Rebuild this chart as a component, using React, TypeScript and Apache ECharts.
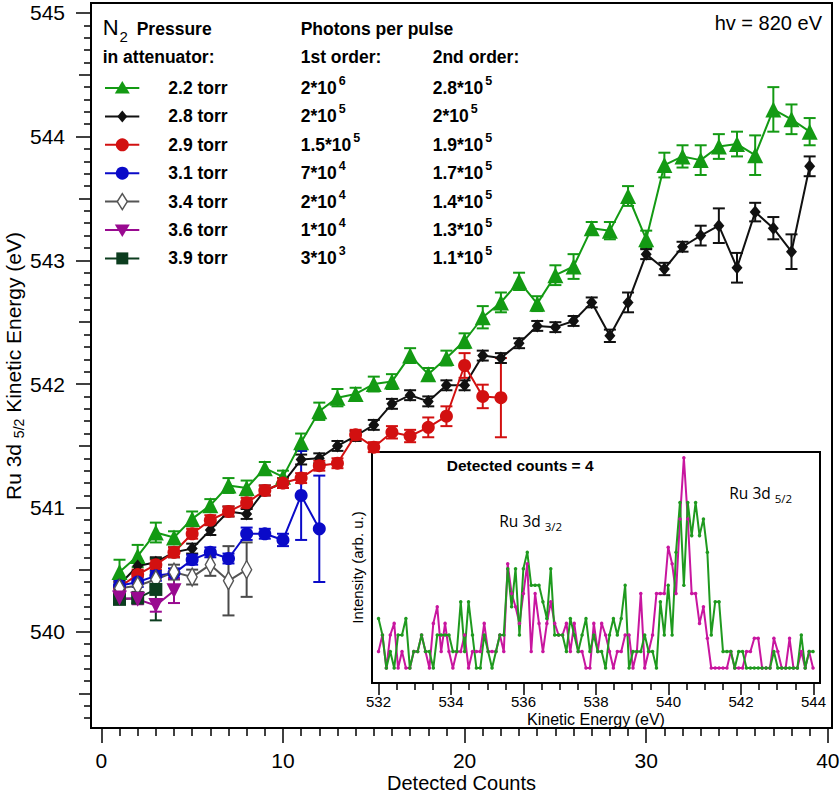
import React, { useEffect, useRef } from "react";
import * as echarts from "echarts";

// ---------- Main chart data (x = detected counts 1..n) ----------
const pressures = ["2.2 torr", "2.8 torr", "2.9 torr", "3.1 torr", "3.4 torr", "3.6 torr", "3.9 torr"];
const firstOrderMant = ["2", "2", "1.5", "7", "2", "1", "3"];
const firstOrderExp = ["6", "5", "5", "4", "4", "4", "3"];
const secondOrderMant = ["2.8", "2", "1.9", "1.7", "1.4", "1.3", "1.1"];
const secondOrderExp = ["5", "5", "5", "5", "5", "5", "5"];

const ke22 = [540.48, 540.61, 540.80, 540.76, 540.91, 541.02, 541.18, 541.16, 541.32, 541.25, 541.53, 541.78, 541.89, 541.92, 542.00, 542.02, 542.23, 542.08, 542.21, 542.35, 542.54, 542.66, 542.83, 542.65, 542.88, 542.95, 543.26, 543.24, 543.52, 543.17, 543.77, 543.84, 543.81, 543.92, 543.94, 543.85, 544.22, 544.14, 544.04];
const ke22Err = [0.1, 0.09, 0.08, 0.05, 0.06, 0.05, 0.06, 0.06, 0.05, 0.05, 0.07, 0.07, 0.07, 0.05, 0.06, 0.06, 0.06, 0.05, 0.06, 0.06, 0.09, 0.08, 0.07, 0.06, 0.08, 0.1, 0.05, 0.07, 0.08, 0.07, 0.1, 0.09, 0.12, 0.1, 0.1, 0.16, 0.18, 0.12, 0.11];

const ke28 = [540.38, 540.53, 540.56, 540.64, 540.67, 540.82, 540.97, 540.95, 541.14, 541.20, 541.39, 541.40, 541.50, 541.58, 541.67, 541.84, 541.91, 541.86, 541.99, 541.99, 542.23, 542.21, 542.33, 542.47, 542.46, 542.51, 542.66, 542.39, 542.66, 543.05, 542.93, 543.11, 543.20, 543.28, 542.94, 543.39, 543.26, 543.07, 543.76];
const ke28Err = [0.04, 0.04, 0.04, 0.04, 0.04, 0.04, 0.04, 0.04, 0.04, 0.04, 0.04, 0.04, 0.04, 0.04, 0.04, 0.04, 0.04, 0.04, 0.04, 0.04, 0.04, 0.04, 0.04, 0.04, 0.04, 0.04, 0.04, 0.05, 0.08, 0.04, 0.05, 0.04, 0.08, 0.14, 0.12, 0.075, 0.09, 0.14, 0.08];

const ke29 = [540.36, 540.46, 540.54, 540.64, 540.79, 540.90, 540.97, 541.04, 541.14, 541.20, 541.24, 541.34, 541.36, 541.59, 541.49, 541.61, 541.58, 541.65, 541.74, 542.15, 541.90, 541.89];
const ke29Err = [0.04, 0.04, 0.04, 0.04, 0.04, 0.04, 0.04, 0.04, 0.04, 0.04, 0.04, 0.04, 0.04, 0.04, 0.04, 0.05, 0.05, 0.08, 0.08, 0.1, 0.095, 0.32];

const ke31 = [540.37, 540.40, 540.45, 540.47, 540.58, 540.64, 540.59, 540.79, 540.79, 540.74, 541.10, 540.83];
const ke31Err = [0.04, 0.04, 0.04, 0.04, 0.04, 0.04, 0.04, 0.05, 0.04, 0.05, 0.36, 0.43];

const ke34 = [540.35, 540.37, 540.42, 540.48, 540.44, 540.54, 540.41, 540.50];
const ke34Err = [0.05, 0.05, 0.06, 0.06, 0.06, 0.09, 0.28, 0.22];

const ke36 = [540.27, 540.26, 540.21, 540.33];
const ke36Err = [0.04, 0.04, 0.05, 0.1];

const ke39 = [540.26, 540.27, 540.34];
const ke39Err = [0.04, 0.04, 0.25];

// ---------- Inset spectrum (detected counts = 4) ----------
const insetStartEV = 532.0;
const insetStepEV = 0.108;
const insetMagenta = [1, 2, 0, 2, 2.7, 0, 1, 0, 0, 1, 1, 2, 1, 0, 2.7, 3.7, 1, 2.7, 1, 0, 1, 1, 2, 0, 1, 1, 1, 2.7, 1, 1, 1, 2, 1, 6.3, 4.5, 3.7, 2.7, 4.5, 6.3, 1, 4.5, 2.7, 1, 2.7, 4, 2.7, 2, 2, 2.7, 1, 2.7, 1, 1, 0, 0, 2.7, 1, 2.7, 2, 1, 0, 1, 1, 2, 2, 0, 1, 4.5, 0, 1, 2, 4.5, 4.5, 4.5, 7.3, 6.3, 4.5, 9, 12.7, 9, 4.5, 4.5, 2.7, 3.7, 1.8, 0, 0, 0, 0, 0, 1, 0, 0, 0, 1, 1, 1.8, 1.8, 0, 0, 0, 1.8, 1, 0, 0, 1.8, 0, 0, 1, 0, 1, 0];
const insetGreen = [3, 2, 0, 1, 0, 2, 2, 3, 0, 1, 1, 2, 1, 1, 0, 2, 2, 2, 2, 1, 1, 4, 1, 4, 2, 0, 0, 2, 1, 0, 1, 2, 2, 6, 3.7, 6, 2, 6, 7, 5, 5, 5, 4, 3, 6, 2, 2, 2, 1, 3, 2, 1, 2, 3, 1, 2, 1, 1, 0, 2, 3, 2, 3, 5, 0, 1, 1, 1, 2, 1, 1, 0, 4, 2, 5, 2, 7, 10, 5, 10, 8, 10, 8, 9, 7, 2, 4, 4, 1, 1, 1, 0, 1, 1, 0, 0, 0, 0, 0, 0, 0, 1, 0, 0, 0, 0, 0, 0, 2, 0, 1, 1];

// ---------- Tick values ----------
const yMajorTicks = [540, 541, 542, 543, 544, 545];
const xMajorTicks = [0, 10, 20, 30, 40];
const insetMajorTicks = [532, 534, 536, 538, 540, 542, 544];

const FONT = "Liberation Sans";
const C = {
  green: "#139a13",
  black: "#111111",
  red: "#d21010",
  blue: "#0a0ac8",
  gray: "#555555",
  purple: "#990a90",
  dkgreen: "#0c3d1f",
  insetMag: "#c8169f",
  insetGreen: "#1f9a1f",
};

const seriesSpecs = [
  { name: pressures[0], y: ke22, err: ke22Err, color: C.green, symbol: "triangle", size: 16 as any, rotate: 0, fill: C.green },
  { name: pressures[1], y: ke28, err: ke28Err, color: C.black, symbol: "diamond", size: [11, 13] as any, rotate: 0, fill: C.black },
  { name: pressures[2], y: ke29, err: ke29Err, color: C.red, symbol: "circle", size: 13 as any, rotate: 0, fill: C.red },
  { name: pressures[3], y: ke31, err: ke31Err, color: C.blue, symbol: "circle", size: 13 as any, rotate: 0, fill: C.blue },
  { name: pressures[4], y: ke34, err: ke34Err, color: C.gray, symbol: "diamond", size: [10, 18] as any, rotate: 0, fill: "#ffffff" },
  { name: pressures[6], y: ke39, err: ke39Err, color: C.dkgreen, symbol: "rect", size: 13 as any, rotate: 0, fill: C.dkgreen },
  { name: pressures[5], y: ke36, err: ke36Err, color: C.purple, symbol: "triangle", size: 15 as any, rotate: 180, fill: C.purple },
];

function range(a: number, b: number, step: number, skip: number) {
  const out: number[] = [];
  const n = Math.round((b - a) / step);
  for (let k = 0; k <= n; k++) {
    const v = Number((a + k * step).toFixed(4));
    if (Math.abs(v / skip - Math.round(v / skip)) > 1e-6) out.push(v);
  }
  return out;
}

export default function App() {
  const ref = useRef<HTMLDivElement>(null);
  useEffect(() => {
    document.body.style.margin = "0";
    const chart = echarts.init(ref.current!, null, { renderer: "svg" });
    const mctx = document.createElement("canvas").getContext("2d")!;
    const tw = (t: string, font: string) => {
      mctx.font = font;
      return mctx.measureText(t).width;
    };

    const yMid = range(539.5, 544.5, 1, 1000);
    const yMinor = range(539.3, 545.0, 0.1, 0.5);
    const xMinor = range(0, 40, 1, 10);
    const insetMinor = range(532, 544, 0.5, 2);

    const errRender = (color: string) => (params: any, api: any) => {
      const x = api.value(0);
      const lo = api.coord([x, api.value(1)]);
      const hi = api.coord([x, api.value(2)]);
      const hw = 6;
      const st = { stroke: color, lineWidth: 2 };
      return {
        type: "group",
        children: [
          { type: "line", shape: { x1: lo[0], y1: lo[1], x2: hi[0], y2: hi[1] }, style: st },
          { type: "line", shape: { x1: lo[0] - hw, y1: lo[1], x2: lo[0] + hw, y2: lo[1] }, style: st },
          { type: "line", shape: { x1: hi[0] - hw, y1: hi[1], x2: hi[0] + hw, y2: hi[1] }, style: st },
        ],
      };
    };

    const series: any[] = [];
    seriesSpecs.forEach((s) => {
      const errColor = s.color === C.gray ? "#4a4a4a" : s.color;
      series.push({
        type: "custom",
        xAxisIndex: 0,
        yAxisIndex: 0,
        data: s.y.map((v, i) => [i + 1, v - s.err[i], v + s.err[i]]),
        encode: { x: 0, y: [1, 2] },
        renderItem: errRender(errColor),
        clip: false,
        silent: true,
      });
      series.push({
        type: "line",
        name: s.name,
        xAxisIndex: 0,
        yAxisIndex: 0,
        data: s.y.map((v, i) => [i + 1, v]),
        symbol: s.symbol,
        symbolSize: s.size,
        symbolRotate: s.rotate,
        showAllSymbol: true,
        lineStyle: { color: s.color, width: 2 },
        itemStyle: { color: s.fill, borderColor: s.color, borderWidth: s.fill === "#ffffff" ? 1.5 : 0, opacity: 1 },
        clip: false,
        silent: true,
      });
    });

    const insetX = (i: number) => Number((insetStartEV + i * insetStepEV).toFixed(4));
    series.push({
      type: "line",
      xAxisIndex: 2,
      yAxisIndex: 3,
      data: insetMagenta.map((v, i) => [insetX(i), v]),
      symbol: "circle",
      symbolSize: 3.5,
      showAllSymbol: true,
      lineStyle: { color: C.insetMag, width: 2 },
      itemStyle: { color: C.insetMag },
      silent: true,
    });
    series.push({
      type: "line",
      xAxisIndex: 2,
      yAxisIndex: 3,
      data: insetGreen.map((v, i) => [insetX(i), v]),
      symbol: "circle",
      symbolSize: 3.5,
      showAllSymbol: true,
      lineStyle: { color: C.insetGreen, width: 2 },
      itemStyle: { color: C.insetGreen },
      silent: true,
    });

    const tickLine = (w: number) => ({ color: "#000", width: w });
    const yBase = { type: "value", gridIndex: 0, min: 539.22, max: 545.08, position: "left", splitLine: { show: false } };
    const xBase = { type: "value", gridIndex: 0, min: -0.57, max: 40.23, position: "bottom", splitLine: { show: false } };
    const iBase = { type: "value", gridIndex: 1, min: 531.82, max: 544.18, position: "bottom", splitLine: { show: false } };

    // ---------- graphic elements (legend table, texts) ----------
    const LB = `bold 17.5px "${FONT}"`;
    const g: any[] = [];
    const txt = (x: number, y: number, text: string, o: any = {}) => ({
      type: "text",
      x,
      y,
      z: 100,
      rotation: o.rotation || 0,
      style: {
        text,
        fill: "#000",
        fontFamily: o.fontFamily || FONT,
        fontSize: o.fontSize || 17.5,
        fontWeight: o.fontWeight || "normal",
        align: o.align || "left",
        verticalAlign: "middle",
        rich: o.rich,
      },
    });

    // header
    g.push(txt(102.7, 27.2, "N", { fontSize: 22 }));
    g.push(txt(102.7 + tw("N", `22px "${FONT}"`) + 1, 36.2, "2", { fontSize: 15 }));
    g.push(txt(136.7, 29.2, "Pressure", { fontWeight: "bold" }));
    g.push(txt(102.7, 57, "in attenuator:", { fontWeight: "bold" }));
    g.push(txt(300.7, 29.2, "Photons per pulse", { fontWeight: "bold" }));
    g.push(txt(300.7, 57, "1st order:", { fontWeight: "bold" }));
    g.push(txt(432.7, 57, "2nd order:", { fontWeight: "bold" }));

    const legendOrder = [0, 1, 2, 3, 4, 6, 5]; // index into seriesSpecs by pressure row
    for (let r = 0; r < 7; r++) {
      const cy = 88 + 28.4 * r;
      const s = seriesSpecs[legendOrder[r]];
      const cx = 122.3;
      g.push({ type: "line", z: 100, shape: { x1: 105, y1: cy, x2: 139.3, y2: cy }, style: { stroke: s.color, lineWidth: 2 } });
      let sym: any;
      if (r === 0) sym = { type: "polygon", shape: { points: [[cx, cy - 7], [cx + 7.5, cy + 5.5], [cx - 7.5, cy + 5.5]] }, style: { fill: s.color } };
      else if (r === 1) sym = { type: "polygon", shape: { points: [[cx, cy - 6], [cx + 5, cy], [cx, cy + 6], [cx - 5, cy]] }, style: { fill: s.color } };
      else if (r === 2 || r === 3) sym = { type: "circle", shape: { cx, cy, r: 6.5 }, style: { fill: s.color } };
      else if (r === 4) sym = { type: "polygon", shape: { points: [[cx, cy - 8], [cx + 5, cy], [cx, cy + 8], [cx - 5, cy]] }, style: { fill: "#fff", stroke: s.color, lineWidth: 1.5 } };
      else if (r === 5) sym = { type: "polygon", shape: { points: [[cx, cy + 7], [cx + 7.5, cy - 5.5], [cx - 7.5, cy - 5.5]] }, style: { fill: s.color } };
      else sym = { type: "rect", shape: { x: cx - 6, y: cy - 6, width: 12, height: 12 }, style: { fill: s.color } };
      sym.z = 101;
      g.push(sym);
      g.push(txt(168.3, cy, pressures[r], { fontWeight: "bold" }));
      const m1 = firstOrderMant[r] + "*10";
      g.push(txt(300.7, cy, m1, { fontWeight: "bold" }));
      g.push(txt(300.7 + tw(m1, LB) + 2, cy - 7, firstOrderExp[r], { fontWeight: "bold", fontSize: 12.5 }));
      const m2 = secondOrderMant[r] + "*10";
      g.push(txt(432.7, cy, m2, { fontWeight: "bold" }));
      g.push(txt(432.7 + tw(m2, LB) + 2, cy - 7, secondOrderExp[r], { fontWeight: "bold", fontSize: 12.5 }));
    }

    g.push(txt(822, 22.5, "hv = 820 eV", { fontSize: 20, align: "right" }));

    // axis titles
    g.push(txt(461.5, 782.5, "Detected Counts", { fontSize: 20, align: "center" }));
    g.push({
      type: "text",
      x: 13,
      y: 366,
      z: 100,
      rotation: Math.PI / 2,
      style: {
        text: "{a|Ru 3d }{s|5/2}{a| Kinetic Energy (eV)}",
        align: "center",
        verticalAlign: "middle",
        fill: "#000",
        rich: {
          a: { fontSize: 21, fontFamily: FONT, lineHeight: 26, fill: "#000" },
          s: { fontSize: 14, fontFamily: FONT, lineHeight: 14, verticalAlign: "bottom", fill: "#000" },
        },
      },
    });

    // inset texts
    g.push(txt(596, 719.3, "Kinetic Energy (eV)", { fontSize: 16, align: "center" }));
    g.push(txt(357, 567.5, "Intensity (arb. u.)", { fontSize: 15, align: "center", rotation: Math.PI / 2 }));
    g.push(txt(446.7, 465.5, "Detected counts = 4", { fontSize: 15.5, fontWeight: "bold" }));
    const RF = "Open Sans";
    g.push(txt(499.3, 520.5, "Ru 3d", { fontSize: 15.5, fontFamily: RF }));
    g.push(txt(499.3 + tw("Ru 3d", `15.5px "${RF}"`) + 4, 526.5, "3/2", { fontSize: 11.5, fontFamily: RF }));
    g.push(txt(729.3, 492.5, "Ru 3d", { fontSize: 15.5, fontFamily: RF }));
    g.push(txt(729.3 + tw("Ru 3d", `15.5px "${RF}"`) + 4, 498.5, "5/2", { fontSize: 11.5, fontFamily: RF }));

    const option: any = {
      animation: false,
      backgroundColor: "#ffffff",
      textStyle: { fontFamily: FONT },
      grid: [
        { left: 91, top: 3, right: 8, bottom: 65, show: true, borderColor: "#000", borderWidth: 2, backgroundColor: "transparent", outerBoundsMode: "none", containLabel: false },
        { left: 372, top: 452, width: 448, height: 231, show: true, borderColor: "#000", borderWidth: 2, backgroundColor: "#ffffff", outerBoundsMode: "none", containLabel: false },
      ],
      xAxis: [
        {
          ...xBase,
          axisLine: { show: true, onZero: false, lineStyle: tickLine(2) },
          axisTick: { show: true, customValues: xMajorTicks, length: 15, lineStyle: tickLine(1.5) },
          axisLabel: { show: true, customValues: xMajorTicks, margin: 22, fontSize: 21, fontFamily: FONT, color: "#000" },
        },
        {
          ...xBase,
          axisLine: { show: false, onZero: false },
          axisTick: { show: true, customValues: xMinor, length: 8, lineStyle: tickLine(1.5) },
          axisLabel: { show: false },
        },
        {
          ...iBase,
          axisLine: { show: true, onZero: false, lineStyle: tickLine(2) },
          axisTick: { show: true, customValues: insetMajorTicks, length: 12, lineStyle: tickLine(1.5) },
          axisLabel: { show: true, customValues: insetMajorTicks, margin: 11, fontSize: 15, fontFamily: FONT, color: "#000" },
        },
        {
          ...iBase,
          axisLine: { show: false, onZero: false },
          axisTick: { show: true, customValues: insetMinor, length: 7, lineStyle: tickLine(1.5) },
          axisLabel: { show: false },
        },
      ],
      yAxis: [
        {
          ...yBase,
          axisLine: { show: true, onZero: false, lineStyle: tickLine(2) },
          axisTick: { show: true, customValues: yMajorTicks, length: 15, lineStyle: tickLine(1.5) },
          axisLabel: { show: true, customValues: yMajorTicks, margin: 26, fontSize: 21, fontFamily: FONT, color: "#000" },
        },
        {
          ...yBase,
          axisLine: { show: false, onZero: false },
          axisTick: { show: true, customValues: yMid, length: 12, lineStyle: tickLine(1.5) },
          axisLabel: { show: false },
        },
        {
          ...yBase,
          axisLine: { show: false, onZero: false },
          axisTick: { show: true, customValues: yMinor, length: 7, lineStyle: tickLine(1.5) },
          axisLabel: { show: false },
        },
        {
          type: "value",
          gridIndex: 1,
          min: -0.9,
          max: 13.05,
          axisLine: { show: false, onZero: false },
          axisTick: { show: false },
          axisLabel: { show: false },
          splitLine: { show: false },
        },
      ],
      series,
      graphic: g,
    };
    chart.setOption(option);
    return () => chart.dispose();
  }, []);
  return <div ref={ref} style={{ width: 840, height: 793 }} />;
}
